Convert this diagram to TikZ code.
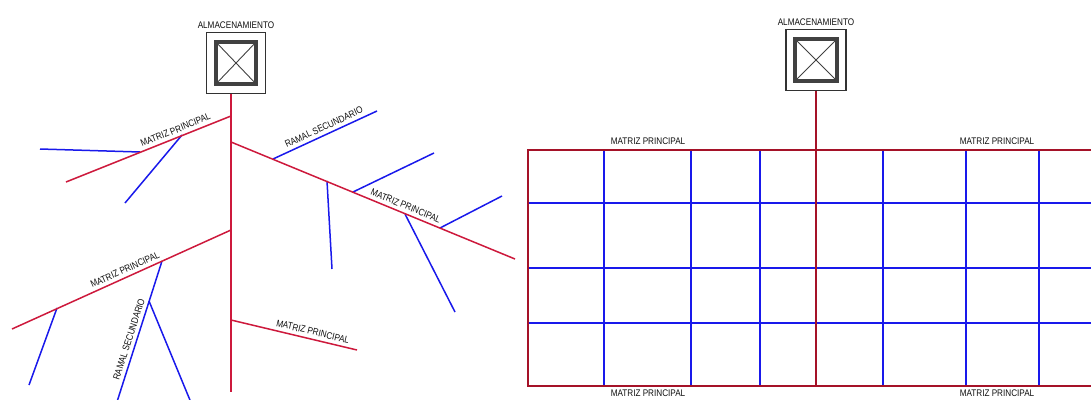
\documentclass[tikz,border=0pt]{standalone}
\usepackage{fontspec}
\newfontfamily\rotulofont[FakeStretch=0.85]{Liberation Sans}
\usepackage{tikz}
\usetikzlibrary{positioning}
\definecolor{matrizcolor}{RGB}{205, 25, 60}
\definecolor{gridrojocolor}{RGB}{165, 18, 40}
\definecolor{ramalcolor}{RGB}{25, 25, 235}
\definecolor{tanquecolor}{RGB}{50, 50, 50}
\definecolor{tanqueintcolor}{RGB}{65, 65, 65}
\definecolor{textocolor}{RGB}{15, 15, 15}
\tikzset{
rotulo/.style={
  font=\rotulofont\fontsize{9.6}{11}\selectfont,
  text=textocolor,
  inner sep=1pt
},
matriz/.style={
  draw=matrizcolor,
  line width=1.5pt
},
matrizgrid/.style={
  draw=gridrojocolor,
  line width=1.6pt
},
ramal/.style={
  draw=ramalcolor,
  line width=1.5pt
},
tanque/.style={
  draw=tanquecolor,
  line width=1.2pt,
  minimum width=59pt,
  minimum height=61pt,
  inner sep=0pt
},
tanqueint/.style={
  draw=tanqueintcolor,
  line width=3.8pt,
  minimum width=39.5pt,
  minimum height=41.5pt,
  inner sep=0pt
},
cruz/.style={
  draw=tanqueintcolor,
  line width=0.9pt
}
}

\begin{document}
\begin{tikzpicture}[x=1pt, y=-1pt]
  \useasboundingbox (0,0) rectangle (1091,399);
  \clip (0,0) rectangle (1091,399);

  % red de distribucion ramificada
  \node[tanque] (tanqueA) at (236,63) {};
  \node[tanqueint] (tanqueAi) at (tanqueA.center) {};
  \draw[cruz] (tanqueAi.north west) -- (tanqueAi.south east)
              (tanqueAi.north east) -- (tanqueAi.south west);
  \node[rotulo, above=2pt of tanqueA] (almA) {ALMACENAMIENTO};

  \coordinate (j1) at (231,116);
  \coordinate (j2) at (231,142);
  \coordinate (j3) at (231,230);
  \coordinate (j4) at (231,320);
  \coordinate (a5) at (231,392);
  \coordinate (e1) at (66,182);
  \coordinate (e2) at (515,259);
  \coordinate (e3) at (12,329);
  \coordinate (e4) at (357,350);

  \coordinate (b1) at (140,152);  \coordinate (c1) at (40,149);
  \coordinate (b2) at (182,135);  \coordinate (c2) at (125,203);
  \coordinate (b3) at (273,159);  \coordinate (c3) at (377,111);
  \coordinate (b4) at (353,192);  \coordinate (c4) at (434,153);
  \coordinate (b5) at (440,228);  \coordinate (c5) at (502,196);
  \coordinate (b6) at (327,181);  \coordinate (c6) at (332,269);
  \coordinate (b7) at (405,214);  \coordinate (c7) at (455,312);
  \coordinate (b8) at (57,308);   \coordinate (c8) at (29,385);
  \coordinate (b9) at (162,261);  \coordinate (c9) at (116,405);
  \coordinate (b10) at (149,301); \coordinate (c10) at (192,405);

  \draw[ramal] (b1) -- (c1);
  \draw[ramal] (b2) -- (c2);
  \draw[ramal] (b3) -- node[rotulo, sloped, above=2.5pt, pos=0.52] (r1) {RAMAL SECUNDARIO} (c3);
  \draw[ramal] (b4) -- (c4);
  \draw[ramal] (b5) -- (c5);
  \draw[ramal] (b6) -- (c6);
  \draw[ramal] (b7) -- (c7);
  \draw[ramal] (b8) -- (c8);
  \draw[ramal] (c9) -- node[rotulo, sloped, above=2.5pt, pos=0.44] (r2) {RAMAL SECUNDARIO} (b9);
  \draw[ramal] (b10) -- (c10);

  \draw[matriz] (tanqueA.south -| j1) -- (a5);
  \draw[matriz] (e1) -- node[rotulo, sloped, above=2.5pt, pos=0.68] (m1) {MATRIZ PRINCIPAL} (j1);
  \draw[matriz] (j2) -- node[rotulo, sloped, above=2.5pt, pos=0.605] (m2) {MATRIZ PRINCIPAL} (e2);
  \draw[matriz] (e3) -- node[rotulo, sloped, above=2.5pt, pos=0.53] (m3) {MATRIZ PRINCIPAL} (j3);
  \draw[matriz] (j4) -- node[rotulo, sloped, above=2.5pt, pos=0.635] (m4) {MATRIZ PRINCIPAL} (e4);

  % red de distribucion en malla
  \node[tanque, minimum width=60pt] (tanqueB) at (816,60) {};
  \node[tanqueint, minimum width=41.5pt] (tanqueBi) at (tanqueB.center) {};
  \draw[cruz] (tanqueBi.north west) -- (tanqueBi.south east)
              (tanqueBi.north east) -- (tanqueBi.south west);
  \node[rotulo, above=2pt of tanqueB] (almB) {ALMACENAMIENTO};

  \foreach \x in {604,691,760,883,966,1039}
    \draw[ramal] (\x,150) -- (\x,386);
  \foreach \y in {203,268,323}
    \draw[ramal] (528,\y) -- (1100,\y);

  \draw[matrizgrid] (1100,150) -- (528,150) -- (528,386) -- (1100,386);
  \draw[matrizgrid] (tanqueB.south) -- (tanqueB.south |- 0,386);

  \coordinate (g1) at (648,150);
  \coordinate (g2) at (997,150);
  \coordinate (g3) at (648,386);
  \coordinate (g4) at (997,386);
  \node[rotulo, above=4pt of g1] (m5) {MATRIZ PRINCIPAL};
  \node[rotulo, above=4pt of g2] (m6) {MATRIZ PRINCIPAL};
  \node[rotulo, below=3pt of g3] (m7) {MATRIZ PRINCIPAL};
  \node[rotulo, below=3pt of g4] (m8) {MATRIZ PRINCIPAL};
\end{tikzpicture}
\end{document}
